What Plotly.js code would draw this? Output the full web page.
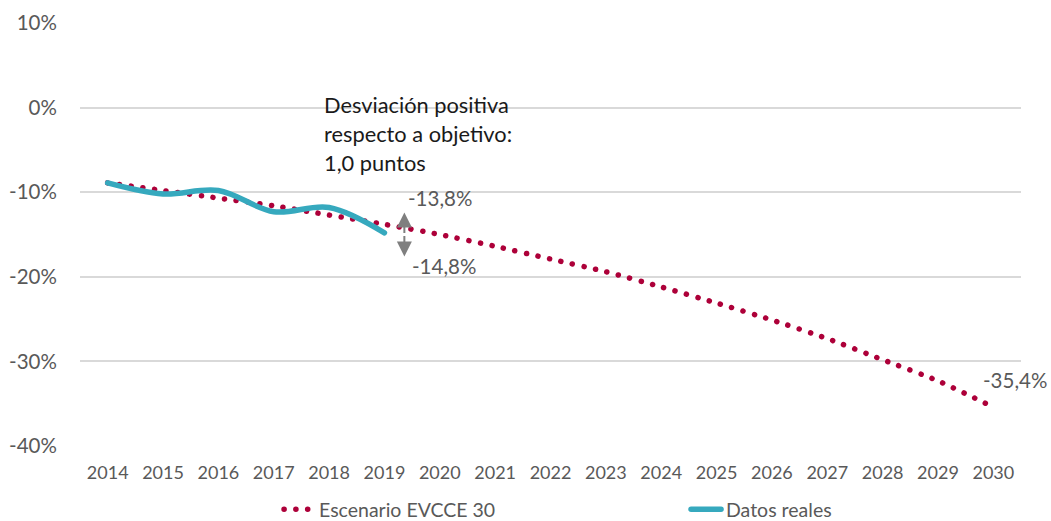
<!DOCTYPE html>
<html>
<head>
<meta charset="utf-8">
<script src="https://cdn.plot.ly/plotly-3.0.1.min.js"></script>
<style>
html,body{margin:0;padding:0;background:#fff;}
#chart{width:1051px;height:521px;}
.js-line{stroke-linecap:round;}
</style>
</head>
<body>
<div id="chart"></div>
<script>
const years = [2014,2015,2016,2017,2018,2019,2020,2021,2022,2023,2024,2025,2026,2027,2028,2029,2030];
const escenario = [-8.9,-9.8,-10.7,-11.6,-12.7,-13.8,-15.0,-16.4,-17.9,-19.4,-21.2,-23.1,-25.1,-27.3,-29.8,-32.3,-35.4];
const realYears = [2014,2015,2016,2017,2018,2019];
const reales = [-8.9,-10.2,-9.8,-12.3,-11.8,-14.8];
const yTicks = [10,0,-10,-20,-30,-40];
const yTickLabels = ['10%','0%','-10%','-20%','-30%','-40%'];
const seriesNames = ['Escenario EVCCE 30','Datos reales'];

const fmt = v => v.toFixed(1).replace('.', ',') + '%';
const lastIdx = reales.length - 1;
const objYear = realYears[lastIdx];
const objVal = escenario[years.indexOf(objYear)];
const realVal = reales[lastIdx];
const desv = Math.abs(realVal - objVal).toFixed(1).replace('.', ',');

const red = '#AD0039';
const blue = '#36A9BE';
const grey = '#595959';
const FONT = 'Lato, "Open Sans", sans-serif';

const traces = [
  {x: years, y: escenario, name: seriesNames[0], type: 'scatter', mode: 'lines',
   line: {color: red, width: 5.5, dash: '0.1px,11.7px', shape: 'spline', smoothing: 0.6}},
  {x: realYears, y: reales, name: seriesNames[1], type: 'scatter', mode: 'lines',
   line: {color: blue, width: 5.5, shape: 'spline', smoothing: 1}}
];

const arrowX = objYear + 0.36;
const arrowMid = (objVal + realVal) / 2 - 0.7;
const annotations = [
  {x: objYear, y: objVal, text: fmt(objVal), showarrow: false, xshift: 56, yshift: 26,
   font: {family: FONT, size: 20.5, color: grey}},
  {x: objYear, y: realVal, text: fmt(realVal), showarrow: false, xshift: 60, yshift: -33,
   font: {family: FONT, size: 20.5, color: grey}},
  {x: years[years.length-1], y: escenario[escenario.length-1], text: fmt(escenario[escenario.length-1]),
   showarrow: false, xshift: 22, yshift: 27, font: {family: FONT, size: 20.5, color: grey}},
  {x: arrowX, y: objVal + 1.4, ax: arrowX, ay: arrowMid, axref: 'x', ayref: 'y', text: '',
   showarrow: true, arrowhead: 2, arrowsize: 1.5, arrowwidth: 2, arrowcolor: '#7F7F7F'},
  {x: arrowX, y: realVal - 2.8, ax: arrowX, ay: arrowMid, axref: 'x', ayref: 'y', text: '',
   showarrow: true, arrowhead: 2, arrowsize: 1.5, arrowwidth: 2, arrowcolor: '#7F7F7F'}
];
const noteLines = ['Desviación positiva', 'respecto a objetivo:', desv + ' puntos'];
noteLines.forEach((t, i) => {
  annotations.push({xref: 'paper', yref: 'paper', x: (322 - 80) / 941, y: 1, xanchor: 'left', yanchor: 'middle',
    yshift: -(104 - 23) - 29 * i, text: t, showarrow: false, align: 'left',
    font: {family: FONT, size: 21.8, color: '#1a1a1a'}});
});

const layout = {
  width: 1051, height: 521,
  margin: {l: 80, r: 30, t: 23, b: 75, pad: 0, autoexpand: false},
  paper_bgcolor: '#fff', plot_bgcolor: '#fff',
  font: {family: FONT, color: grey},
  showlegend: true,
  legend: {orientation: 'h', xref: 'container', yref: 'container', x: 0.2655, xanchor: 'left', y: 0.022, yanchor: 'middle',
    font: {family: FONT, size: 19.5, color: grey}, entrywidth: 362, entrywidthmode: 'pixels',
    traceorder: 'normal', bgcolor: 'rgba(0,0,0,0)'},
  xaxis: {range: [2013.5, 2030.5], tickvals: years, ticktext: years.map(String),
    showgrid: false, zeroline: false, showline: false,
    ticks: 'outside', ticklen: 10, tickcolor: 'rgba(0,0,0,0)',
    tickfont: {family: FONT, size: 18, color: grey}, fixedrange: true},
  yaxis: {range: [-40, 10], tickvals: yTicks, ticktext: yTickLabels,
    showgrid: true, gridcolor: '#D9D9D9', gridwidth: 2, zeroline: false, showline: false,
    ticks: 'outside', ticklen: 18, tickcolor: 'rgba(0,0,0,0)',
    tickfont: {family: FONT, size: 20.5, color: grey}, fixedrange: true},
  annotations: annotations
};

Plotly.newPlot('chart', traces, layout, {displayModeBar: false, staticPlot: true});
</script>
</body>
</html>
